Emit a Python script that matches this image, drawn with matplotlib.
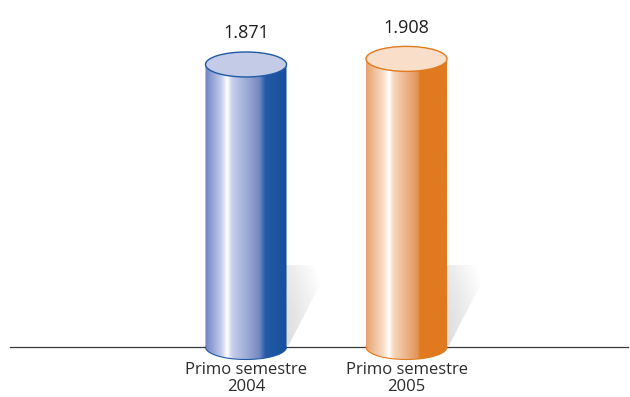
import numpy as np
import matplotlib.pyplot as plt
from matplotlib.patches import Ellipse, Polygon

plt.rcParams['font.family'] = ['Open Sans', 'DejaVu Sans']

categories = ['Primo semestre\n2004', 'Primo semestre\n2005']
values = [1.871, 1.908]
value_labels = ['1.871', '1.908']

# colour stops across the cylinder body (fraction, rgb)
blue_stops = [(0.0, (110, 130, 192)), (0.20, (195, 205, 238)), (0.27, (255, 255, 255)),
              (0.33, (200, 208, 235)), (0.66, (118, 138, 195)), (0.74, (35, 90, 165)),
              (1.0, (20, 80, 158))]
orange_stops = [(0.0, (232, 162, 110)), (0.21, (248, 222, 200)), (0.28, (255, 255, 255)),
                (0.34, (246, 214, 186)), (0.63, (228, 148, 88)), (0.66, (224, 122, 32)),
                (1.0, (224, 122, 32))]
styles = [
    dict(stops=blue_stops, top='#c3cbe6', edge='#1e5aa5'),
    dict(stops=orange_stops, top='#f9dfc9', edge='#e07a1f'),
]

fig = plt.figure(figsize=(6.3, 3.97), dpi=100)
ax = fig.add_axes([0, 0, 1, 1])
ax.set_xlim(-246 / 160.5, (630 - 246) / 160.5)
ax.set_ylim(-50 / 151, 347 / 151)
ax.axis('off')

half_w = 0.2525
ry = 12.5 / 151


def gradient(stops, n=300):
    xs = np.linspace(0, 1, n)
    fr = [s[0] for s in stops]
    cols = np.array([s[1] for s in stops]) / 255
    rgb = np.stack([np.interp(xs, fr, cols[:, k]) for k in range(3)], axis=-1)
    return rgb[np.newaxis, :, :]


# baseline
ax.plot([(10 - 246) / 160.5, (628 - 246) / 160.5], [0, 0], color='#3a3a3a', lw=0.9, zorder=1)

for i, (cat, v, lab, st) in enumerate(zip(categories, values, value_labels, styles)):
    cx = i
    # shadow behind the cylinder
    sh_top = 0.543
    sh = Polygon([(cx, 0), (cx, sh_top), (cx + 0.525, sh_top), (cx + half_w + 0.012, 0.01)],
                 closed=True, facecolor='none', edgecolor='none')
    ax.add_patch(sh)
    gx, gy = np.meshgrid(np.linspace(0, 1, 120), np.linspace(0, 1, 120))
    # gy: 0 at top row, 1 at bottom row
    shade = np.clip(0.79 + 0.21 * gx ** 1.3 + 0.05 * (1 - gy) ** 2, 0.79, 1.0)
    im = ax.imshow(shade, cmap='gray', vmin=0, vmax=1, extent=[cx, cx + 0.53, 0, sh_top],
                   aspect='auto', zorder=2, interpolation='bilinear')
    im.set_clip_path(sh)

    # cylinder body with the rounded bottom
    t = np.linspace(np.pi, 2 * np.pi, 60)
    arc = np.column_stack([cx + half_w * np.cos(t), ry * np.sin(t)])
    body_pts = np.vstack([[cx - half_w, v], arc, [cx + half_w, v]])
    body = Polygon(body_pts, closed=True, facecolor='none', edgecolor='none', zorder=3)
    ax.add_patch(body)
    im2 = ax.imshow(gradient(st['stops']), extent=[cx - half_w, cx + half_w, -ry, v],
                    aspect='auto', zorder=3, interpolation='bilinear')
    im2.set_clip_path(body)
    ax.plot(arc[:, 0], arc[:, 1], color=st['edge'], lw=0.8, zorder=4)

    # top of the cylinder
    ax.add_patch(Ellipse((cx, v), 2 * half_w, 2 * ry, facecolor=st['top'],
                         edgecolor=st['edge'], lw=1.0, zorder=5))

    ax.annotate(lab, (cx, v), xytext=(0, 22.5), textcoords='offset points',
                ha='center', va='center', fontsize=13, color='#1e1e1e', zorder=6)
    ax.text(cx, -15 / 151, cat, ha='center', va='top', fontsize=12,
            color='#2b2b2b', linespacing=1.12, zorder=6)

fig.savefig('out.png', dpi=100)
